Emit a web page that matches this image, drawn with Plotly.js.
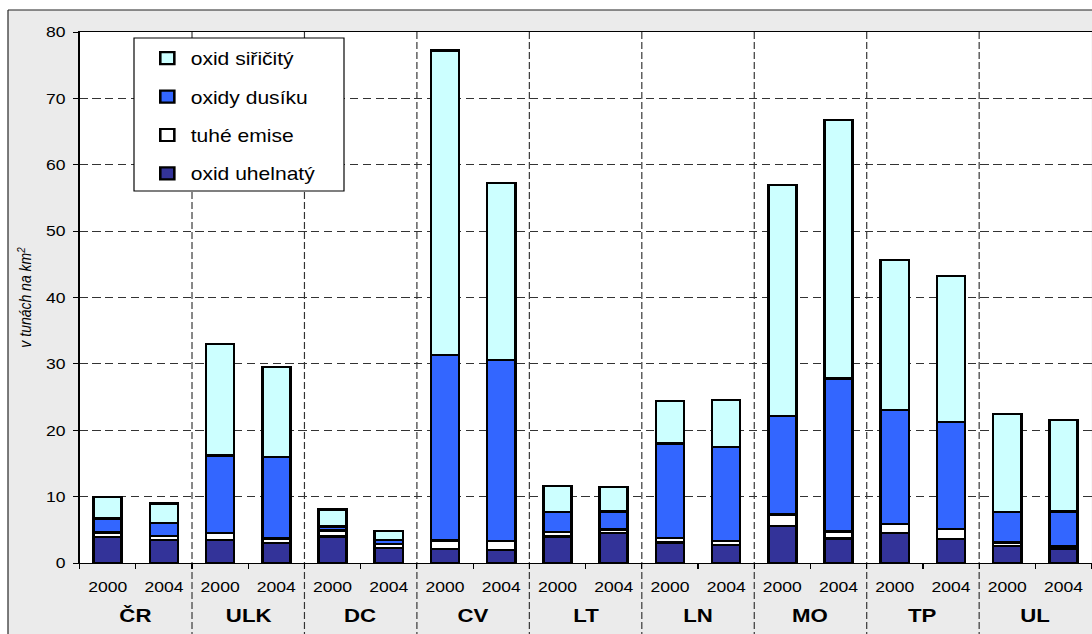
<!DOCTYPE html>
<html>
<head>
<meta charset="utf-8">
<script src="https://cdn.plot.ly/plotly-3.0.1.min.js"></script>
<style>
  html, body { margin: 0; padding: 0; background: #ffffff; overflow: hidden; }
  #wrap { width: 1092px; height: 634px; overflow: hidden; position: relative; }
  /* the chart is laid out narrower and widened horizontally */
  #chart { width: 963px; height: 634px; transform: scaleX(1.17); transform-origin: 0 0; }
</style>
</head>
<body>
<div id="wrap"><div id="chart"></div></div>
<script>
// Regions and years
const regions = ['ČR', 'ULK', 'DC', 'CV', 'LT', 'LN', 'MO', 'TP', 'UL'];
const years = ['2000', '2004'];

// Emissions per km² (tonnes), one value per region/year, in order ČR 2000, ČR 2004, ULK 2000, ...
const oxidUhelnaty = [3.9, 3.5, 3.5, 3.0, 4.0, 2.3, 2.15, 2.0, 4.0, 4.55, 3.1, 2.7, 5.55, 3.7, 4.5, 3.6, 2.6, 2.2];
const tuheEmise    = [0.7, 0.6, 1.0, 0.7, 0.9, 0.6, 1.25, 1.3, 0.7, 0.5, 0.65, 0.6, 1.75, 1.05, 1.4, 1.5, 0.5, 0.4];
const oxidyDusiku  = [2.1, 1.9, 11.7, 12.3, 0.6, 0.6, 27.95, 27.25, 2.95, 2.7, 14.25, 14.2, 14.8, 23.05, 17.1, 16.2, 4.55, 5.15];
const oxidSiricity = [3.3, 2.95, 16.8, 13.5, 2.55, 1.3, 45.85, 26.65, 3.95, 3.75, 6.4, 7.0, 34.9, 39.0, 22.7, 21.9, 14.85, 13.85];

const yTicks = [0, 10, 20, 30, 40, 50, 60, 70, 80];

// positions: one slot per region/year
const slots = [];
const slotLabels = [];
regions.forEach((r, gi) => years.forEach((y, yi) => {
  slots.push(gi * years.length + yi);
  slotLabels.push(y);
}));

const FONT = 'Liberation Sans, Arial, sans-serif';
const W = 963, H = 634;
const M = { l: 68, r: 30, t: 32, b: 71 };
const PW = W - M.l - M.r;   // 865
const PH = H - M.t - M.b;   // 531
const px2x = p => (p - M.l) / PW;
const px2y = p => 1 - (p - M.t) / PH;

const outline = { color: '#000000', width: 2.2 };
function series(name, values, color, rank) {
  return {
    type: 'bar', name: name, x: slots, y: values, width: 0.5,
    marker: { color: color, line: outline },
    legendgroup: name, legendrank: rank, hoverinfo: 'skip'
  };
}

// stacked bottom to top; listed top to bottom in the legend
const data = [
  series('oxid uhelnatý', oxidUhelnaty, '#333399', 4),
  series('tuhé emise', tuheEmise, '#ffffff', 3),
  series('oxidy dusíku', oxidyDusiku, '#3366ff', 2),
  series('oxid siřičitý', oxidSiricity, '#ccffff', 1)
];

const shapes = [];
// white surround outside the grey frame
const frameL = px2x(8 / 1.17), frameT = px2y(10);
shapes.push({ type: 'rect', xref: 'paper', yref: 'paper', x0: -1, x1: frameL, y0: -1, y1: 2,
  fillcolor: '#ffffff', line: { width: 0 }, layer: 'below' });
shapes.push({ type: 'rect', xref: 'paper', yref: 'paper', x0: -1, x1: 2, y0: frameT, y1: 2,
  fillcolor: '#ffffff', line: { width: 0 }, layer: 'below' });
// frame border
shapes.push({ type: 'line', xref: 'paper', yref: 'paper', x0: frameL, x1: frameL, y0: -1, y1: frameT,
  line: { color: '#222222', width: 1 } });
shapes.push({ type: 'line', xref: 'paper', yref: 'paper', x0: frameL, x1: 2, y0: frameT, y1: frameT,
  line: { color: '#222222', width: 1 } });
// dashed dividers between regions, running through the label band
for (let g = 1; g < regions.length; g++) {
  const xb = g * years.length - 0.5;
  shapes.push({ type: 'line', xref: 'x', yref: 'paper', x0: xb, x1: xb, y0: 1, y1: -0.3,
    line: { color: '#333333', width: 1, dash: '7px,3px' }, layer: 'below' });
}
// legend box
shapes.push({ type: 'rect', xref: 'paper', yref: 'paper',
  x0: px2x(134 / 1.17), x1: px2x(344 / 1.17), y0: px2y(191), y1: px2y(38),
  fillcolor: '#ffffff', line: { color: '#000000', width: 1 }, layer: 'above' });

// region names under the years
const annotations = regions.map((r, gi) => ({
  text: '<b>' + r + '</b>', xref: 'x', yref: 'paper',
  x: gi * years.length + (years.length - 1) / 2, y: px2y(615),
  xanchor: 'center', yanchor: 'middle', showarrow: false,
  font: { family: FONT, size: 19, color: '#000000' }
}));

const layout = {
  width: W, height: H,
  margin: M,
  paper_bgcolor: '#ebebeb',
  plot_bgcolor: '#ffffff',
  barmode: 'stack',
  bargap: 0.5,
  font: { family: FONT, color: '#000000' },
  showlegend: true,
  legend: {
    x: px2x(123), y: px2y(40), xanchor: 'left', yanchor: 'top',
    traceorder: 'grouped', tracegroupgap: 12,
    bgcolor: 'rgba(0,0,0,0)', borderwidth: 0,
    font: { family: FONT, size: 18, color: '#000000' }
  },
  xaxis: {
    range: [-0.5, slots.length - 0.5],
    tickmode: 'array', tickvals: slots, ticktext: slotLabels,
    ticks: '', ticklabelstandoff: 10,
    tickfont: { family: FONT, size: 15, color: '#000000' },
    minor: { tick0: 0.5, dtick: 1, ticks: 'outside', ticklen: 5, tickcolor: '#000000', tickwidth: 1, showgrid: false },
    showgrid: false, zeroline: false,
    showline: true, linecolor: '#000000', linewidth: 1, mirror: true,
    fixedrange: true
  },
  yaxis: {
    range: [0, 80],
    tickmode: 'array', tickvals: yTicks,
    ticks: 'outside', ticklen: 5, tickcolor: '#000000',
    ticklabelstandoff: 3,
    tickfont: { family: FONT, size: 15, color: '#000000' },
    showgrid: true, gridcolor: '#333333', gridwidth: 1, griddash: '7px,4px',
    zeroline: false,
    showline: true, linecolor: '#000000', linewidth: 1,
    title: { text: '<i>v tunách na km<sup>2</sup></i>', standoff: 8,
      font: { family: FONT, size: 14, color: '#000000' } },
    fixedrange: true
  },
  shapes: shapes,
  annotations: annotations
};

Plotly.newPlot('chart', data, layout, { displayModeBar: false, staticPlot: true });
</script>
</body>
</html>
